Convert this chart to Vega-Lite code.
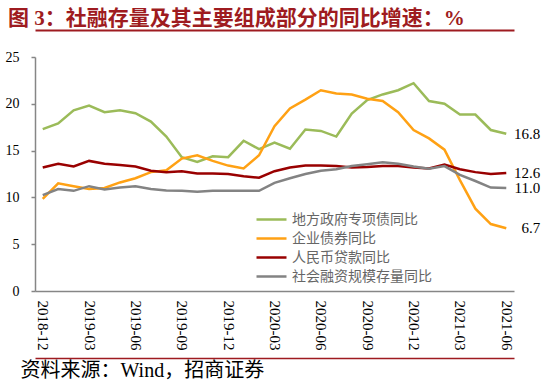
{
  "$schema": "https://vega.github.io/schema/vega-lite/v6.json",
  "width": 479,
  "height": 234,
  "autosize": {"type": "none"},
  "padding": {"left": 35, "top": 57, "right": 36, "bottom": 95},
  "background": "white",
  "title": {
    "text": "图 3：社融存量及其主要组成部分的同比增速：%",
    "anchor": "start",
    "frame": "group",
    "dx": -27,
    "dy": 43,
    "offset": 23,
    "baseline": "bottom",
    "font": "Liberation Serif, Noto Sans CJK SC",
    "fontSize": 21,
    "fontWeight": "bold",
    "color": "#9E1B20"
  },
  "data": {
    "values": [
      {"month": "2018-12", "地方政府专项债同比": 17.3, "企业债券同比": 9.85, "人民币贷款同比": 13.2, "社会融资规模存量同比": 10.25},
      {"month": "2019-01", "地方政府专项债同比": 17.9, "企业债券同比": 11.5, "人民币贷款同比": 13.6, "社会融资规模存量同比": 10.9},
      {"month": "2019-02", "地方政府专项债同比": 19.3, "企业债券同比": 11.2, "人民币贷款同比": 13.3, "社会融资规模存量同比": 10.7},
      {"month": "2019-03", "地方政府专项债同比": 19.8, "企业债券同比": 10.9, "人民币贷款同比": 13.9, "社会融资规模存量同比": 11.2},
      {"month": "2019-04", "地方政府专项债同比": 19.1, "企业债券同比": 11.0, "人民币贷款同比": 13.6, "社会融资规模存量同比": 10.85},
      {"month": "2019-05", "地方政府专项债同比": 19.3, "企业债券同比": 11.6, "人民币贷款同比": 13.45, "社会融资规模存量同比": 11.05},
      {"month": "2019-06", "地方政府专项债同比": 19.0, "企业债券同比": 12.05, "人民币贷款同比": 13.3, "社会融资规模存量同比": 11.2},
      {"month": "2019-07", "地方政府专项债同比": 18.1, "企业债券同比": 12.7, "人民币贷款同比": 12.85, "社会融资规模存量同比": 10.9},
      {"month": "2019-08", "地方政府专项债同比": 16.5, "企业债券同比": 12.9, "人民币贷款同比": 12.7, "社会融资规模存量同比": 10.75},
      {"month": "2019-09", "地方政府专项债同比": 14.3, "企业债券同比": 14.15, "人民币贷款同比": 12.8, "社会融资规模存量同比": 10.7},
      {"month": "2019-10", "地方政府专项债同比": 13.8, "企业债券同比": 14.5, "人民币贷款同比": 12.55, "社会融资规模存量同比": 10.6},
      {"month": "2019-11", "地方政府专项债同比": 14.4, "企业债券同比": 13.9, "人民币贷款同比": 12.55, "社会融资规模存量同比": 10.7},
      {"month": "2019-12", "地方政府专项债同比": 14.3, "企业债券同比": 13.4, "人民币贷款同比": 12.5, "社会融资规模存量同比": 10.7},
      {"month": "2020-01", "地方政府专项债同比": 16.05, "企业债券同比": 13.1, "人民币贷款同比": 12.25, "社会融资规模存量同比": 10.7},
      {"month": "2020-02", "地方政府专项债同比": 15.15, "企业债券同比": 14.5, "人民币贷款同比": 12.1, "社会融资规模存量同比": 10.7},
      {"month": "2020-03", "地方政府专项债同比": 15.85, "企业债券同比": 17.6, "人民币贷款同比": 12.8, "社会融资规模存量同比": 11.55},
      {"month": "2020-04", "地方政府专项债同比": 15.2, "企业债券同比": 19.5, "人民币贷款同比": 13.2, "社会融资规模存量同比": 12.05},
      {"month": "2020-05", "地方政府专项债同比": 17.25, "企业债券同比": 20.45, "人民币贷款同比": 13.4, "社会融资规模存量同比": 12.5},
      {"month": "2020-06", "地方政府专项债同比": 17.1, "企业债券同比": 21.45, "人民币贷款同比": 13.4, "社会融资规模存量同比": 12.85},
      {"month": "2020-07", "地方政府专项债同比": 16.5, "企业债券同比": 21.1, "人民币贷款同比": 13.35, "社会融资规模存量同比": 13.0},
      {"month": "2020-08", "地方政府专项债同比": 18.95, "企业债券同比": 21.0, "人民币贷款同比": 13.2, "社会融资规模存量同比": 13.35},
      {"month": "2020-09", "地方政府专项债同比": 20.4, "企业债券同比": 20.55, "人民币贷款同比": 13.25, "社会融资规模存量同比": 13.55},
      {"month": "2020-10", "地方政府专项债同比": 21.0, "企业债券同比": 20.3, "人民币贷款同比": 13.35, "社会融资规模存量同比": 13.75},
      {"month": "2020-11", "地方政府专项债同比": 21.45, "企业债券同比": 19.1, "人民币贷款同比": 13.35, "社会融资规模存量同比": 13.6},
      {"month": "2020-12", "地方政府专项债同比": 22.2, "企业债券同比": 17.2, "人民币贷款同比": 13.2, "社会融资规模存量同比": 13.3},
      {"month": "2021-01", "地方政府专项债同比": 20.3, "企业债券同比": 16.3, "人民币贷款同比": 13.1, "社会融资规模存量同比": 13.05},
      {"month": "2021-02", "地方政府专项债同比": 20.0, "企业债券同比": 15.1, "人民币贷款同比": 13.5, "社会融资规模存量同比": 13.35},
      {"month": "2021-03", "地方政府专项债同比": 18.85, "企业债券同比": 11.85, "人民币贷款同比": 13.0, "社会融资规模存量同比": 12.4},
      {"month": "2021-04", "地方政府专项债同比": 18.85, "企业债券同比": 8.8, "人民币贷款同比": 12.7, "社会融资规模存量同比": 11.75},
      {"month": "2021-05", "地方政府专项债同比": 17.2, "企业债券同比": 7.15, "人民币贷款同比": 12.5, "社会融资规模存量同比": 11.05},
      {"month": "2021-06", "地方政府专项债同比": 16.8, "企业债券同比": 6.7, "人民币贷款同比": 12.6, "社会融资规模存量同比": 11.0}
    ]
  },
  "transform": [
    {"fold": ["地方政府专项债同比", "企业债券同比", "人民币贷款同比", "社会融资规模存量同比"], "as": ["series", "value"]}
  ],
  "encoding": {
    "x": {
      "field": "month",
      "type": "ordinal",
      "sort": null,
      "scale": {"type": "point", "padding": 0.5},
      "axis": {
        "values": ["2018-12", "2019-03", "2019-06", "2019-09", "2019-12", "2020-03", "2020-06", "2020-09", "2020-12", "2021-03", "2021-06"],
        "labelAngle": 90,
        "labelAlign": "left",
        "labelBaseline": "middle",
        "labelFont": "Liberation Serif",
        "labelFontSize": 15,
        "labelColor": "#000000",
        "labelPadding": 9,
        "ticks": false,
        "domainColor": "#868686",
        "domainWidth": 1.5,
        "grid": false,
        "title": "资料来源：Wind，招商证券",
        "titleAnchor": null,
        "titleAlign": "left",
        "titleX": -15,
        "titleY": 79,
        "titleBaseline": "middle",
        "titleFont": "Liberation Serif, Noto Sans CJK SC",
        "titleFontSize": 20,
        "titleFontWeight": "normal",
        "titleColor": "#000000"
      }
    },
    "y": {
      "field": "value",
      "type": "quantitative",
      "scale": {"domain": [0, 25], "nice": false},
      "axis": {
        "values": [0, 5, 10, 15, 20, 25],
        "title": null,
        "grid": false,
        "labelFont": "Liberation Serif",
        "labelFontSize": 14,
        "labelColor": "#000000",
        "labelPadding": 12,
        "tickSize": 4,
        "tickColor": "#868686",
        "tickWidth": 1.5,
        "domainColor": "#868686",
        "domainWidth": 1.5
      }
    },
    "color": {
      "field": "series",
      "type": "nominal",
      "scale": {
        "domain": ["地方政府专项债同比", "企业债券同比", "人民币贷款同比", "社会融资规模存量同比"],
        "range": ["#9BBB59", "#FFA114", "#990000", "#838383"]
      },
      "legend": {
        "orient": "none",
        "legendX": 220,
        "legendY": 153,
        "title": null,
        "symbolType": "stroke",
        "symbolSize": 900,
        "symbolStrokeWidth": 2.5,
        "labelFont": "Noto Sans CJK SC",
        "labelFontSize": 14,
        "labelColor": "#666666",
        "labelOffset": 4,
        "clipHeight": 19,
        "rowPadding": 0
      }
    }
  },
  "layer": [
    {"mark": {"type": "line", "strokeWidth": 2.5}},
    {
      "transform": [{"filter": "datum.month === '2021-06'"}],
      "mark": {"type": "text", "align": "right", "baseline": "middle", "dx": 34, "font": "Liberation Serif", "fontSize": 15},
      "encoding": {
        "x": {"field": "month", "type": "ordinal", "sort": null, "axis": {"orient": "bottom", "offset": 67, "values": ["2018-12"], "labels": true, "labelExpr": "''", "labelPadding": 0, "ticks": true, "tickSize": 0, "tickOpacity": 0, "grid": false, "title": null, "domain": true, "domainColor": "#9E1B20", "domainWidth": 1.5}},
        "text": {"field": "value", "type": "quantitative", "format": ".1f"},
        "color": {"value": "#000000"}
      }
    },
    {
      "mark": {"type": "line", "strokeWidth": 2.5, "strokeOpacity": 0},
      "encoding": {
        "x": {"field": "month", "type": "ordinal", "sort": null, "axis": {"orient": "top", "offset": 27, "values": ["2018-12"], "labels": true, "labelExpr": "''", "labelPadding": 0, "ticks": true, "tickSize": 0, "tickOpacity": 0, "grid": false, "title": null, "domain": true, "domainColor": "#9E1B20", "domainWidth": 2}}
      }
    }
  ],
  "resolve": {"axis": {"x": "independent"}},
  "config": {"view": {"stroke": null}}
}
